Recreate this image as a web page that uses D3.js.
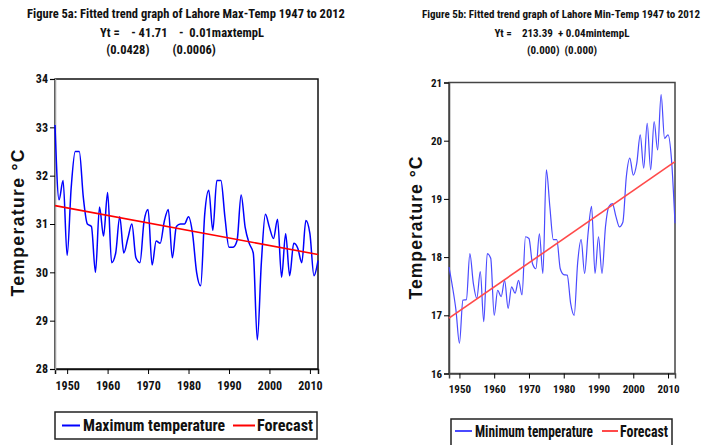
<!DOCTYPE html>
<html>
<head>
<meta charset="utf-8">
<script src="https://cdn.jsdelivr.net/npm/d3@7"></script>
<style>
  html, body { margin: 0; padding: 0; background: #fff; }
  svg { display: block; }
  text { font-family: "Liberation Sans Narrow", "Arial Narrow", "Roboto Condensed", "Liberation Sans", sans-serif; fill: #111; }
  text.ylab { font-family: "Liberation Sans", Arial, sans-serif; }
</style>
</head>
<body>
<svg id="chart" width="709" height="445"></svg>
<script>
const years = d3.range(1947, 2013);

// Lahore annual max temperature
const maxTemp = [
  33.05, 31.5, 31.9, 30.35, 31.75, 32.5, 32.5, 31.55, 31.0, 30.95,
  30.0, 31.35, 30.75, 31.65, 30.2, 30.4, 31.15, 30.4, 30.7, 31.0,
  30.3, 30.2, 31.05, 31.3, 30.15, 30.65, 30.6, 31.05, 31.3, 30.3,
  30.95, 31.0, 31.0, 31.15, 30.8, 30.0, 29.72, 31.2, 31.7, 30.87,
  31.9, 31.9, 31.14, 30.52, 30.52, 30.66, 31.6, 30.93, 30.6, 30.4,
  28.6, 30.2, 31.2, 30.93, 30.7, 31.1, 29.9, 30.8, 29.93, 30.6,
  30.5, 30.2, 31.07, 30.8, 29.93, 30.24
];

// Lahore annual min temperature
const minTemp = [
  17.83, 17.49, 17.09, 16.52, 17.26, 17.27, 18.06, 17.55, 17.29, 17.75,
  16.89, 18.06, 17.98, 17.0, 17.43, 17.32, 17.6, 17.12, 17.49, 17.38,
  17.6, 17.35, 18.35, 18.32, 17.89, 17.8, 18.4, 17.72, 19.5, 18.87,
  18.3, 18.3, 17.8, 17.7, 17.69, 17.2, 17.0, 17.9, 18.3, 17.72,
  18.41, 18.87, 17.72, 18.35, 17.72, 18.52, 18.87, 18.92, 18.7, 18.52,
  18.6, 19.38, 19.7, 19.41, 19.61, 20.1, 19.53, 20.3, 19.5, 20.33,
  19.84, 20.79, 20.04, 20.1, 19.67, 18.58
];

// fitted trend end points
const trendMax = [[1947, 31.38], [2012, 30.37]];
const trendMin = [[1947, 16.95], [2012, 19.64]];

const xTicks = [1950, 1960, 1970, 1980, 1990, 2000, 2010];
const yTicksMax = [28, 29, 30, 31, 32, 33, 34];
const yTicksMin = [16, 17, 18, 19, 20, 21];

const titleMax = [
  "Figure 5a: Fitted trend graph of Lahore Max-Temp 1947 to 2012",
  "Yt =    - 41.71    -  0.01maxtempL",
  "(0.0428)        (0.0006)"
];
const titleMin = [
  "Figure 5b: Fitted trend graph of Lahore Min-Temp 1947 to 2012",
  "Yt =    213.39  + 0.04mintempL",
  "(0.000)  (0.000)"
];

const svg = d3.select("#chart");

function drawPanel(cfg) {
  const g = svg.append("g");
  const x = d3.scaleLinear().domain([1947, 2012]).range([cfg.left, cfg.right]);
  const y = d3.scaleLinear().domain(cfg.yDomain).range([cfg.bottom, cfg.top]);

  // titles
  cfg.titles.forEach((t, i) => {
    g.append("text")
      .attr("x", cfg.titleX[i])
      .attr("y", cfg.titleY[i])
      .attr("text-anchor", "middle")
      .attr("font-size", cfg.titleSize)
      .attr("font-weight", "bold")
      .attr("xml:space", "preserve")
      .text(t);
  });

  // frame
  g.append("rect")
    .attr("x", cfg.left).attr("y", cfg.top)
    .attr("width", cfg.right - cfg.left).attr("height", cfg.bottom - cfg.top)
    .attr("fill", "none").attr("stroke", cfg.frameColor).attr("stroke-width", 1.5);

  // axes
  g.append("g")
    .attr("transform", `translate(0,${cfg.bottom})`)
    .call(d3.axisBottom(x).tickValues(xTicks).tickFormat(d3.format("d")).tickSize(5).tickPadding(7))
    .call(a => a.select(".domain").attr("stroke", cfg.frameColor).attr("stroke-width", 1.5))
    .call(a => a.selectAll("text").attr("font-size", cfg.tickSize).attr("font-weight", "bold").attr("fill", "#222"));
  g.append("g")
    .attr("transform", `translate(${cfg.left},0)`)
    .call(d3.axisLeft(y).tickValues(cfg.yTicks).tickFormat(d3.format("d")).tickSize(5).tickPadding(2))
    .call(a => a.select(".domain").attr("stroke", cfg.yAxisColor).attr("stroke-width", 1.5))
    .call(a => a.selectAll("text").attr("font-size", cfg.tickSize).attr("font-weight", "bold").attr("fill", "#222"));

  g.append("text")
    .attr("class", "ylab")
    .attr("transform", `translate(${cfg.yLabelX},${cfg.yLabelY}) rotate(-90)`)
    .attr("text-anchor", "middle")
    .attr("font-size", 17.5)
    .attr("font-weight", "bold")
    .attr("textLength", cfg.yLabelLen)
    .attr("lengthAdjust", "spacing")
    .text("Temperature °C");

  // series
  const line = d3.line().x((d, i) => x(years[i])).y(d => y(d)).curve(d3.curveMonotoneX);
  g.append("path")
    .datum(cfg.values)
    .attr("d", line)
    .attr("fill", "none")
    .attr("stroke", cfg.blue)
    .attr("stroke-width", cfg.lineWidth);
  g.append("path")
    .datum(cfg.trend)
    .attr("d", d3.line().x(d => x(d[0])).y(d => y(d[1])))
    .attr("fill", "none")
    .attr("stroke", cfg.red)
    .attr("stroke-width", 1.6);

  // legend
  const L = cfg.legend;
  const lg = g.append("g");
  lg.append("rect")
    .attr("x", L.x).attr("y", L.y)
    .attr("width", L.w).attr("height", L.h)
    .attr("fill", "#fff").attr("stroke", "#222").attr("stroke-width", 1.5);
  const ly = L.y + L.ty;
  lg.append("line")
    .attr("x1", L.l1[0]).attr("x2", L.l1[1])
    .attr("y1", ly).attr("y2", ly)
    .attr("stroke", cfg.blue).attr("stroke-width", 2);
  lg.append("text")
    .attr("x", L.l1[1] + 3).attr("y", ly).attr("dy", "0.35em")
    .attr("font-size", L.size).attr("font-weight", "bold")
    .attr("textLength", L.len1).attr("lengthAdjust", "spacingAndGlyphs")
    .text(cfg.name);
  lg.append("line")
    .attr("x1", L.l2[0]).attr("x2", L.l2[1])
    .attr("y1", ly).attr("y2", ly)
    .attr("stroke", cfg.red).attr("stroke-width", 2);
  lg.append("text")
    .attr("x", L.l2[1] + 2).attr("y", ly).attr("dy", "0.35em")
    .attr("font-size", L.size).attr("font-weight", "bold")
    .attr("textLength", L.len2).attr("lengthAdjust", "spacingAndGlyphs")
    .text("Forecast");
}

drawPanel({
  left: 55, right: 318, top: 79, bottom: 369,
  yDomain: [28, 34], yTicks: yTicksMax,
  values: maxTemp, trend: trendMax,
  titles: titleMax, titleX: [186, 182, 161], titleY: [18, 37, 54], titleSize: 12.5,
  tickSize: 12, frameColor: "#111", yAxisColor: "#a0a0a0",
  yLabelX: 24, yLabelY: 223, yLabelLen: 147,
  blue: "#0000ff", red: "#ff0000", lineWidth: 1.5,
  name: "Maximum temperature",
  legend: { x: 55, y: 412, w: 262, h: 27, ty: 13.5, l1: [62, 80], l2: [233, 255], size: 17, len1: 142, len2: 56 }
});

drawPanel({
  left: 449, right: 675, top: 82.5, bottom: 373.5,
  yDomain: [16, 21], yTicks: yTicksMin,
  values: minTemp, trend: trendMin,
  titles: titleMin, titleX: [561, 562, 562], titleY: [18, 37, 54], titleSize: 11,
  tickSize: 11, frameColor: "#444", yAxisColor: "#444",
  yLabelX: 422, yLabelY: 228, yLabelLen: 143,
  blue: "#4a4aff", red: "#ff4a4a", lineWidth: 1.2,
  name: "Minimum temperature",
  legend: { x: 451, y: 419, w: 221, h: 32, ty: 12, l1: [455, 472], l2: [602, 618], size: 16, len1: 118, len2: 48 }
});
</script>
</body>
</html>
